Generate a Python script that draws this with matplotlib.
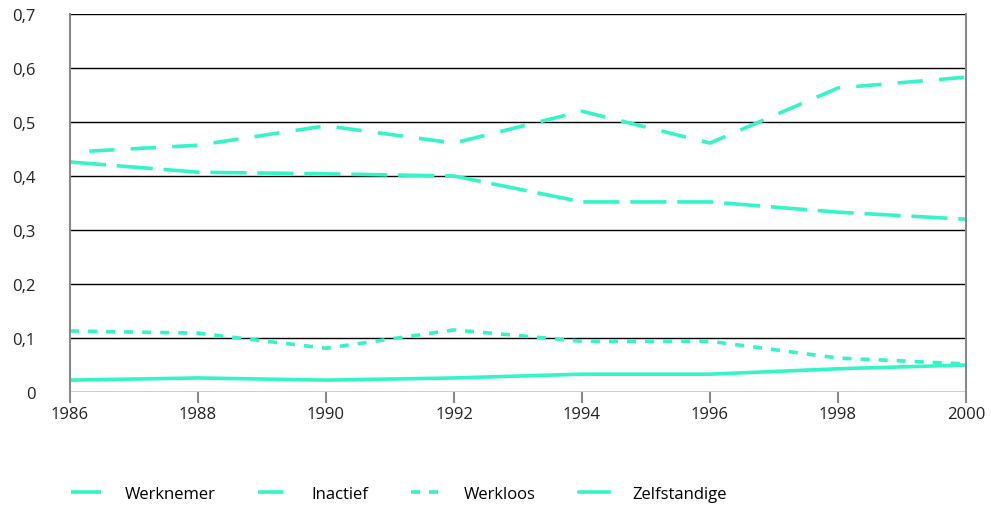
import matplotlib.pyplot as plt
from matplotlib.ticker import FuncFormatter

plt.rcParams.update({'font.size': 12, 'font.family': ['Open Sans', 'DejaVu Sans']})

# data
years = [1986, 1988, 1990, 1992, 1994, 1996, 1998, 2000]
werknemer = [0.426, 0.407, 0.404, 0.400, 0.352, 0.352, 0.333, 0.320]
inactief_years = [1986.3, 1988, 1990, 1992, 1994, 1996, 1998, 2000]
inactief = [0.446, 0.457, 0.493, 0.461, 0.520, 0.461, 0.563, 0.583]
werkloos = [0.113, 0.109, 0.081, 0.115, 0.094, 0.094, 0.063, 0.052]
zelfstandige = [0.022, 0.026, 0.022, 0.026, 0.033, 0.033, 0.043, 0.050]

color = '#33F5C8'

fig = plt.figure(figsize=(9.91, 5.06), dpi=100)
ax = fig.add_axes([70/991, 1-393/506, (966-70)/991, (393-15)/506])

ax.plot(years, werknemer, color=color, lw=2.6, dashes=(10, 3), label='Werknemer')
ax.plot(inactief_years, inactief, color=color, lw=2.6, dashes=(7, 4.5), label='Inactief')
ax.plot(years, werkloos, color=color, lw=2.6, dashes=(2.5, 2.5), label='Werkloos')
ax.plot(years, zelfstandige, color=color, lw=2.6, label='Zelfstandige')

ax.set_xlim(1986, 2000)
ax.set_ylim(0, 0.7)
ax.set_xticks(years)
ax.set_yticks([0, 0.1, 0.2, 0.3, 0.4, 0.5, 0.6, 0.7])
ax.yaxis.set_major_formatter(FuncFormatter(lambda v, p: '0' if v == 0 else f'{v:.1f}'.replace('.', ',')))
ax.grid(axis='y', color='black', lw=1)
ax.set_axisbelow(True)

for s in ['top', 'bottom']:
    ax.spines[s].set_visible(False)
for s in ['left', 'right']:
    ax.spines[s].set_color('#888888')
    ax.spines[s].set_linewidth(1.5)

ax.tick_params(axis='y', length=0, pad=25, colors='#222222')
ax.tick_params(axis='x', length=8, width=1.5, color='#888888', labelcolor='#222222', pad=2)

handles, labels = ax.get_legend_handles_labels()
fig.legend(handles, labels, loc='center left', bbox_to_anchor=(0.057, 0.022), ncol=4,
           frameon=False, handlelength=1.8, handletextpad=1.4, columnspacing=2.55)

fig.savefig('out.png', dpi=100)
